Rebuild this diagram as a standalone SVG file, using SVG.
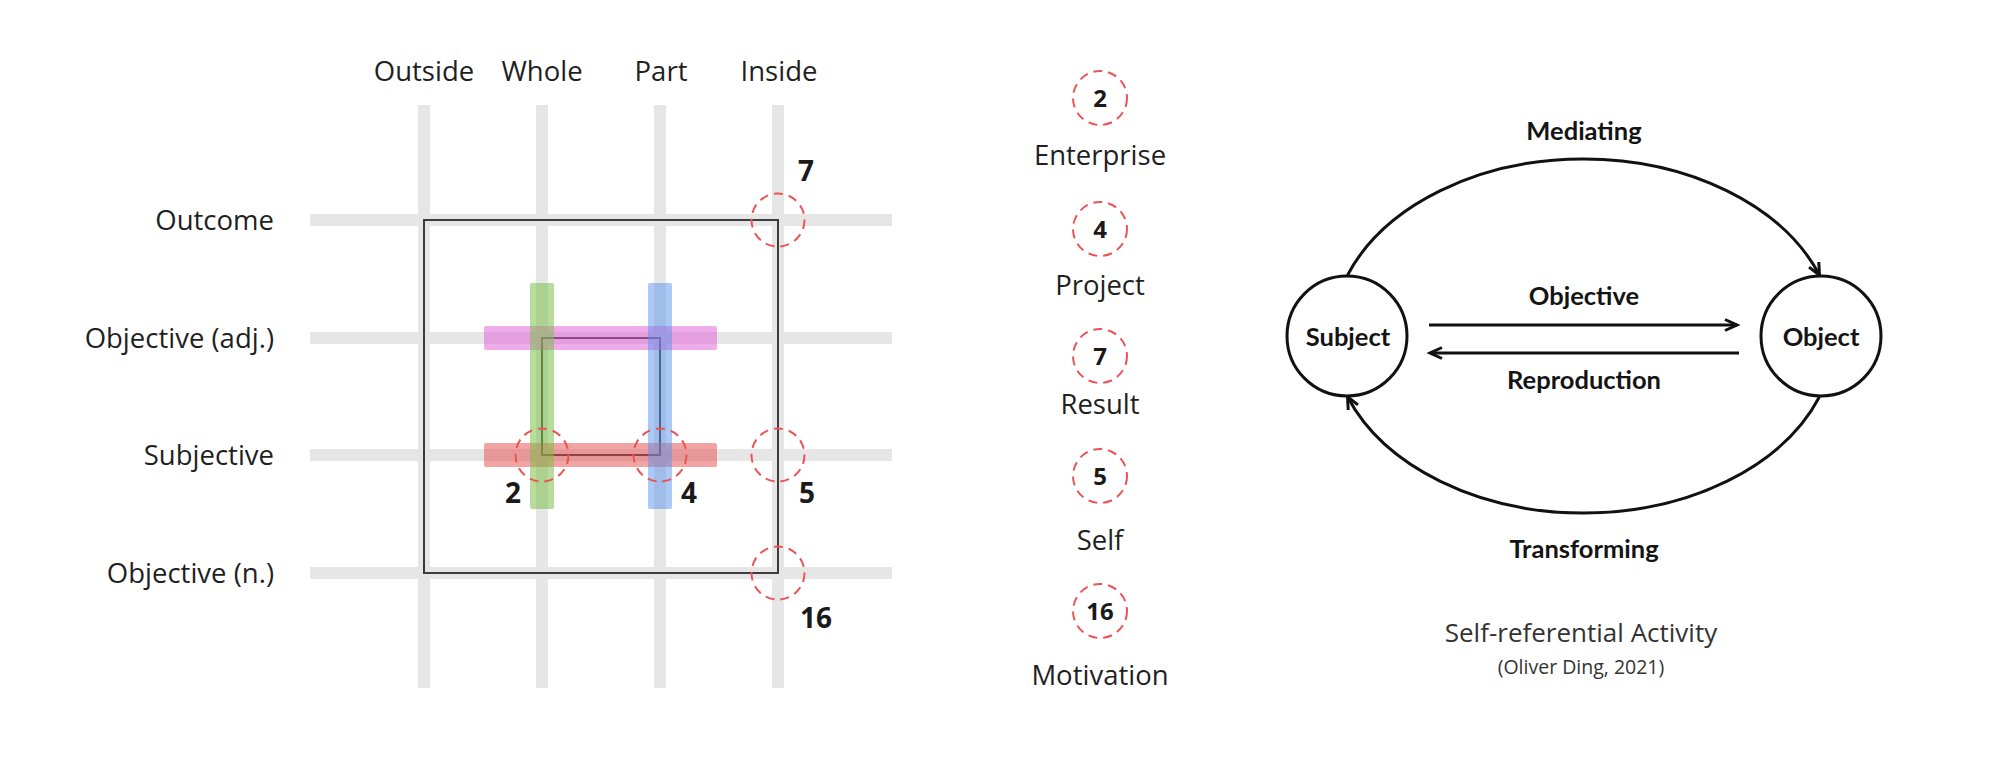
<svg xmlns="http://www.w3.org/2000/svg" width="2000" height="758" viewBox="0 0 2000 758">
<style>
.lbl{font-family:"Open Sans","Noto Sans","Liberation Sans",sans-serif;font-size:27.5px;fill:#1f1f1f}
.num{font-family:"Open Sans","Noto Sans","Liberation Sans",sans-serif;font-weight:700;font-size:28px;fill:#1a1a1a}
.cnum{font-family:"Open Sans","Noto Sans","Liberation Sans",sans-serif;font-weight:700;font-size:24px;fill:#1a1a1a;text-anchor:middle}
.grid{stroke:#e6e6e6;stroke-width:12}
.dash{fill:none;stroke:#ea5455;stroke-width:2;stroke-dasharray:9 6}
.frame{fill:none;stroke:#3c3c3c;stroke-width:2}
.cb{font-family:Lato,"Open Sans","Liberation Sans",sans-serif;font-weight:700;font-size:25.5px;fill:#141414;text-anchor:middle}
.node{fill:#fff;stroke:#111;stroke-width:3}
.edge{fill:none;stroke:#111;stroke-width:3}
.cap{font-family:"Open Sans","Noto Sans","Liberation Sans",sans-serif;fill:#333;text-anchor:middle}
</style>
<defs>
<marker id="arr" markerUnits="userSpaceOnUse" markerWidth="16" markerHeight="14" refX="13" refY="6" orient="auto" overflow="visible">
<path d="M1,0.5 L13,6 L1,11.5" fill="none" stroke="#111" stroke-width="3" stroke-linejoin="miter"/>
</marker>
</defs>
<rect width="2000" height="758" fill="#ffffff"/>

<g id="grid">
<line class="grid" x1="424" y1="105" x2="424" y2="688"/>
<line class="grid" x1="542" y1="105" x2="542" y2="688"/>
<line class="grid" x1="660" y1="105" x2="660" y2="688"/>
<line class="grid" x1="778" y1="105" x2="778" y2="688"/>
<line class="grid" x1="310" y1="220" x2="892" y2="220"/>
<line class="grid" x1="310" y1="338" x2="892" y2="338"/>
<line class="grid" x1="310" y1="455" x2="892" y2="455"/>
<line class="grid" x1="310" y1="573" x2="892" y2="573"/>
</g>

<g id="frames">
<rect class="frame" x="424" y="220" width="354" height="353"/>
<rect class="frame" x="542" y="338" width="118" height="117"/>
</g>

<g id="bars">
<rect x="484" y="326" width="233" height="24" rx="2" fill="#e15ad6" fill-opacity="0.5"/>
<rect x="484" y="443" width="233" height="24" rx="2" fill="#e64848" fill-opacity="0.5"/>
<rect x="530" y="283" width="24" height="226" rx="2" fill="#7cc04a" fill-opacity="0.55"/>
<rect x="648" y="283" width="24" height="226" rx="2" fill="#5a92ea" fill-opacity="0.5"/>
</g>

<g id="col-labels" class="lbl" text-anchor="middle">
<text x="424" y="81">Outside</text>
<text x="542" y="81">Whole</text>
<text x="661" y="81">Part</text>
<text x="779" y="81">Inside</text>
</g>

<g id="row-labels" class="lbl" text-anchor="end">
<text x="274" y="230">Outcome</text>
<text x="274" y="348">Objective (adj.)</text>
<text x="274" y="465">Subjective</text>
<text x="274" y="583">Objective (n.)</text>
</g>

<g id="grid-markers">
<g id="m7"><circle class="dash" cx="778" cy="220" r="26.5"/><text class="num" x="806" y="181" text-anchor="middle">7</text></g>
<g id="m2"><circle class="dash" cx="542" cy="455" r="26.5"/><text class="num" x="513" y="503" text-anchor="middle">2</text></g>
<g id="m4"><circle class="dash" cx="660" cy="455" r="26.5"/><text class="num" x="689" y="503" text-anchor="middle">4</text></g>
<g id="m5"><circle class="dash" cx="778" cy="455" r="26.5"/><text class="num" x="807" y="503" text-anchor="middle">5</text></g>
<g id="m16"><circle class="dash" cx="778" cy="573" r="26.5"/><text class="num" x="816" y="628" text-anchor="middle">16</text></g>
</g>

<g id="legend">
<g id="leg2"><circle class="dash" cx="1100" cy="98" r="27"/><text class="cnum" x="1100" y="107">2</text><text class="lbl" x="1100" y="164.5" text-anchor="middle">Enterprise</text></g>
<g id="leg4"><circle class="dash" cx="1100" cy="229" r="27"/><text class="cnum" x="1100" y="238">4</text><text class="lbl" x="1100" y="295" text-anchor="middle">Project</text></g>
<g id="leg7"><circle class="dash" cx="1100" cy="356" r="27"/><text class="cnum" x="1100" y="365">7</text><text class="lbl" x="1100" y="414" text-anchor="middle">Result</text></g>
<g id="leg5"><circle class="dash" cx="1100" cy="476" r="27"/><text class="cnum" x="1100" y="485">5</text><text class="lbl" x="1100" y="550" text-anchor="middle">Self</text></g>
<g id="leg16"><circle class="dash" cx="1100" cy="611" r="27"/><text class="cnum" x="1100" y="620">16</text><text class="lbl" x="1100" y="684.5" text-anchor="middle">Motivation</text></g>
</g>

<g id="connectors">
<path class="edge" d="M1347.5 275.2 A252 179 0 0 1 1819.5 275.2" marker-end="url(#arr)"/>
<path class="edge" d="M1819.5 396.8 A252 179 0 0 1 1347.5 396.8" marker-end="url(#arr)"/>
<path class="edge" d="M1429 325 L1737 325" marker-end="url(#arr)"/>
<path class="edge" d="M1739 353 L1430 353" marker-end="url(#arr)"/>
</g>

<g id="subject"><circle class="node" cx="1347" cy="336" r="60"/><text class="cb" x="1348" y="346">Subject</text></g>
<g id="object"><circle class="node" cx="1821" cy="336" r="60"/><text class="cb" x="1821" y="346">Object</text></g>

<g id="edge-labels">
<text class="cb" x="1584" y="140">Mediating</text>
<text class="cb" x="1584" y="305">Objective</text>
<text class="cb" x="1584" y="388.5">Reproduction</text>
<text class="cb" x="1584" y="557.5">Transforming</text>
</g>

<g id="caption">
<text class="cap" x="1581" y="642" font-size="26">Self-referential Activity</text>
<text class="cap" x="1581" y="674" font-size="19.5">(Oliver Ding, 2021)</text>
</g>
</svg>
